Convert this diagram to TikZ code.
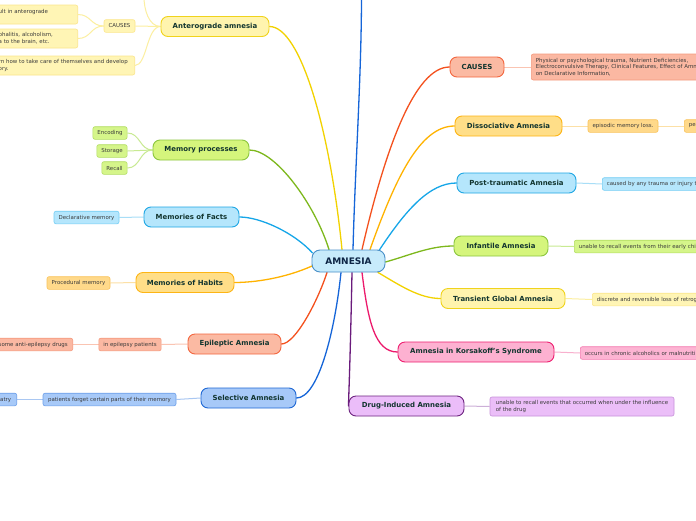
\documentclass[tikz,border=0pt]{standalone}
\usepackage{fontspec}
\setmainfont{DejaVu Sans}
\usetikzlibrary{calc}
\pgfdeclarelayer{bg}
\pgfsetlayers{bg,main}
\newcommand\mainf{\fontsize{6.95}{8}\selectfont\bfseries}
\newcommand\subf{\fontsize{5.45}{6.6}\selectfont}
\newcommand\amnf{\fontsize{9}{10}\selectfont\bfseries}
\definecolor{maintext}{HTML}{12352F}
\definecolor{subtext}{HTML}{3A3A3A}
\definecolor{amnfill}{HTML}{C7EBFB}
\definecolor{amnline}{HTML}{4A90C8}
\definecolor{amntext}{HTML}{0D2545}
% yellow
\definecolor{Yf}{HTML}{FFF4AE}\definecolor{Yd}{HTML}{F0D31C}\definecolor{Yc}{HTML}{F2D200}
\definecolor{Ysf}{HTML}{FFF5B5}\definecolor{Ysd}{HTML}{FBE68C}\definecolor{Ysc}{HTML}{FCEFA0}
% green
\definecolor{Gf}{HTML}{D5F57C}\definecolor{Gd}{HTML}{8CC63F}\definecolor{Gc}{HTML}{7DB81C}
\definecolor{Gsf}{HTML}{D5F58A}\definecolor{Gsd}{HTML}{B2DD62}\definecolor{Gsc}{HTML}{C8EA92}
% light blue
\definecolor{Lf}{HTML}{B5E6FC}\definecolor{Ld}{HTML}{1EA7E4}\definecolor{Lc}{HTML}{16A6E8}
\definecolor{Lsf}{HTML}{B5E6FC}\definecolor{Lsd}{HTML}{74CEF4}\definecolor{Lsc}{HTML}{A8DEF7}
% orange
\definecolor{Of}{HTML}{FFDE88}\definecolor{Od}{HTML}{FDB515}\definecolor{Oc}{HTML}{FFB300}
\definecolor{Osf}{HTML}{FFD98A}\definecolor{Osd}{HTML}{F9C35C}\definecolor{Osc}{HTML}{FCE0A6}
% salmon
\definecolor{Sf}{HTML}{FBBAA3}\definecolor{Sd}{HTML}{F3663F}\definecolor{Sc}{HTML}{F4511E}
\definecolor{Ssf}{HTML}{FBB8A2}\definecolor{Ssd}{HTML}{F59A7E}\definecolor{Ssc}{HTML}{FAC4B2}
% blue
\definecolor{Bf}{HTML}{A7C9F8}\definecolor{Bd}{HTML}{1F68D4}\definecolor{Bc}{HTML}{1565D8}
\definecolor{Bsf}{HTML}{A7C9F8}\definecolor{Bsd}{HTML}{6C9FE9}\definecolor{Bsc}{HTML}{A9C7F2}
% pink
\definecolor{Pf}{HTML}{FDB1D1}\definecolor{Pd}{HTML}{EE1E70}\definecolor{Pc}{HTML}{EC1A6C}
\definecolor{Psf}{HTML}{FDB4D3}\definecolor{Psd}{HTML}{F47CB1}\definecolor{Psc}{HTML}{F8B0CE}
% purple
\definecolor{Vf}{HTML}{EBBDF9}\definecolor{Vd}{HTML}{6E2480}\definecolor{Vc}{HTML}{6A1B7C}
\definecolor{Vsf}{HTML}{EBBEF8}\definecolor{Vsd}{HTML}{C791DA}\definecolor{Vsc}{HTML}{CDB0D8}
\begin{document}
\begin{tikzpicture}[x=1pt,y=-1pt,
  mainnode/.style={draw, line width=0.9pt, rounded corners=7pt, minimum height=20pt, inner xsep=2pt, inner ysep=0pt, font=\mainf, text=maintext},
  subnode/.style={draw, line width=0.6pt, rounded corners=2pt, minimum height=12.6pt, inner xsep=4.5pt, inner ysep=3pt, font=\subf, text=subtext},
  lclip/.style={subnode, anchor=east, align=left},
  rclip/.style={subnode, anchor=west, align=left, text width=230pt},
  conn/.style={line width=1.3pt, line cap=round},
  sconn/.style={line width=1pt},
  ym/.style={mainnode, fill=Yf, draw=Yd}, ys/.style={subnode, fill=Ysf, draw=Ysd},
  gm/.style={mainnode, fill=Gf, draw=Gd}, gs/.style={subnode, fill=Gsf, draw=Gsd},
  lm/.style={mainnode, fill=Lf, draw=Ld}, ls/.style={subnode, fill=Lsf, draw=Lsd},
  om/.style={mainnode, fill=Of, draw=Od}, os/.style={subnode, fill=Osf, draw=Osd},
  sm/.style={mainnode, fill=Sf, draw=Sd}, ss/.style={subnode, fill=Ssf, draw=Ssd},
  bm/.style={mainnode, fill=Bf, draw=Bd}, bs/.style={subnode, fill=Bsf, draw=Bsd},
  pm/.style={mainnode, fill=Pf, draw=Pd}, ps/.style={subnode, fill=Psf, draw=Psd},
  vm/.style={mainnode, fill=Vf, draw=Vd}, vs/.style={subnode, fill=Vsf, draw=Vsd}
]
\useasboundingbox (0,0) rectangle (696,520);
\clip (0,0) rectangle (696,520);

% centre
\node[draw=amnline, fill=amnfill, line width=0.9pt, rounded corners=8pt, minimum width=73pt, minimum height=22pt, inner sep=0pt, font=\amnf, text=amntext] (amn) at (348.5,261) {AMNESIA};

% left main topics
\node[ym, minimum width=108pt] (ant) at (215,26.5) {Anterograde amnesia};
\node[gm, minimum width=96pt] (mp) at (201,150) {Memory processes};
\node[lm, minimum width=95pt] (mof) at (191.5,217) {Memories of Facts};
\node[om, minimum width=98pt] (moh) at (185,282.5) {Memories of Habits};
\node[sm, minimum width=93pt] (ep) at (234.5,344) {Epileptic Amnesia};
\node[bm, minimum width=95pt] (sel) at (248.5,398) {Selective Amnesia};

% right main topics
\node[sm, minimum width=54pt] (cs) at (477,67) {CAUSES};
\node[om, minimum width=107pt] (dis) at (508.5,126) {Dissociative Amnesia};
\node[lm, minimum width=119pt] (pt) at (516.5,183) {Post-traumatic Amnesia};
\node[gm, minimum width=94pt] (inf) at (501,246) {Infantile Amnesia};
\node[ym, minimum width=124pt] (tga) at (503,298.5) {Transient Global Amnesia};
\node[pm, minimum width=156pt] (kor) at (476,352) {Amnesia in Korsakoff's Syndrome};
\node[vm, minimum width=115pt] (drg) at (406.5,406) {Drug-Induced Amnesia};

% left sub topics
\node[ys, minimum width=31pt] (cau) at (119.5,26) {CAUSES};
\node[lclip, ys, text width=74.5pt, minimum height=19pt] (a1) at (78,14.5) {\mbox{ult in anterograde}\\\mbox{}};
\node[lclip, ys, text width=74.5pt, minimum height=19pt] (a2) at (78,38.5) {\mbox{phalitis, alcoholism,}\\\mbox{a to the brain, etc.}};
\node[lclip, ys, text width=131.5pt, minimum height=19pt] (a3) at (135,65.5) {\mbox{rn how to take care of themselves and develop}\\ory.};
\coordinate (antup) at (144,-3);

\node[gs, minimum width=34pt] (enc) at (110,133) {Encoding};
\node[gs, minimum width=30pt] (sto) at (112,151) {Storage};
\node[gs, minimum width=25pt] (rec) at (114.5,168) {Recall};
\node[ls, minimum width=65pt] (decl) at (86.5,217.5) {Declarative memory};
\node[os, minimum width=63pt] (proc) at (78.5,283) {Procedural memory};
\node[ss, minimum width=62pt] (inep) at (130,344.5) {in epilepsy patients};
\node[lclip, ss, text width=69.5pt] (anti) at (73,344.5) {\mbox{some anti-epilepsy drugs}};
\node[bs, minimum width=133pt] (pf) at (109.5,399.5) {patients forget certain parts of their memory};
\node[lclip, bs, text width=13.5pt] (iat) at (17,399.5) {\mbox{iatry}};

% right sub topics
\node[rclip, ss, minimum height=26pt] (ctx) at (531,67) {Physical or psychological trauma, Nutrient Deficiencies,\\Electroconvulsive Therapy, Clinical Features, Effect of Amn\\on Declarative Information,};
\node[os, minimum width=70pt] (epi) at (623,126) {episodic memory loss.};
\node[rclip, os] (pe) at (684,126) {pe};
\node[rclip, ls] (cb) at (602,184) {caused by any trauma or injury t};
\node[rclip, gs] (un) at (574,246.5) {unable to recall events from their early chi};
\node[rclip, ys] (disc) at (592,299.5) {discrete and reversible loss of retrog};
\node[rclip, ps] (occ) at (580,353) {occurs in chronic alcoholics or malnutriti};
\node[vs, minimum width=184pt, minimum height=19pt, align=left] (ut) at (582,406.5) {unable to recall events that occurred when under the influence\\of the drug};
\coordinate (topc) at (361.5,-5);

\begin{pgfonlayer}{bg}
\fill[white] (0,0) rectangle (696,520);
% main connectors
\draw[conn, Yc] ($(amn.north)+(-6.5,0)$) .. controls +(-12,-120) and +(31,0) .. (ant.east);
\draw[conn, Gc] ($(amn.north)+(-19.5,0)$) .. controls +(-14,-45) and +(26,0) .. (mp.east);
\draw[conn, Lc] ($(amn.west)+(1,-8)$) .. controls +(-18,-20) and +(21,0) .. (mof.east);
\draw[conn, Oc] ($(amn.west)+(0.5,5)$) .. controls +(-27,12) and +(21,0) .. (moh.east);
\draw[conn, Sc] ($(amn.south)+(-21.5,0)$) .. controls +(-9,28) and +(14,0) .. (ep.east);
\draw[conn, Bc] ($(amn.south)+(-7.5,0)$) .. controls +(-6,58) and +(22,0) .. (sel.east);
\draw[conn, Vc] ($(amn.south)+(3.5,0)$) .. controls +(-2,100) and +(0,-10) .. (drg.west);
\draw[conn, Pc] ($(amn.south)+(13.5,0)$) .. controls +(6,48) and +(-23,0) .. (kor.west);
\draw[conn, Yc] ($(amn.south)+(29.5,0)$) .. controls +(22,13) and +(-21,0) .. (tga.west);
\draw[conn, Gc] ($(amn.east)+(0,1)$) .. controls +(25,-7) and +(-24,0) .. (inf.west);
\draw[conn, Lc] ($(amn.north)+(30.5,1)$) .. controls +(27,-41) and +(-27,0) .. (pt.west);
\draw[conn, Oc] ($(amn.north)+(21.5,0)$) .. controls +(25,-70) and +(-35,0) .. (dis.west);
\draw[conn, Sc] ($(amn.north)+(13.5,0)$) .. controls +(23,-100) and +(-35,0) .. (cs.west);
\draw[conn, Bc] ($(amn.north)+(4.5,0)$) .. controls +(2,-80) and +(0,80) .. (topc);
% sub connectors
\draw[sconn, Ysc] (ant.west) -- (cau.east);
\draw[sconn, Ysc] (ant.west) .. controls +(-14,0) and +(12,0) .. (a3.east);
\draw[sconn, Ysc] (ant.west) .. controls +(-12,0) and +(0,12) .. (antup);
\draw[sconn, Ysc] (cau.west) .. controls +(-13,0) and +(13,0) .. (a1.east);
\draw[sconn, Ysc] (cau.west) .. controls +(-13,0) and +(13,0) .. (a2.east);
\draw[sconn, Gsc] (mp.west) .. controls +(-13,0) and +(13,0) .. (enc.east);
\draw[sconn, Gsc] (mp.west) .. controls +(-13,0) and +(13,0) .. (sto.east);
\draw[sconn, Gsc] (mp.west) .. controls +(-13,0) and +(13,0) .. (rec.east);
\draw[sconn, Lsc] (mof.west) -- (decl.east);
\draw[sconn, Osc] (moh.west) -- (proc.east);
\draw[sconn, Ssc] (ep.west) -- (inep.east);
\draw[sconn, Ssc] (inep.west) -- (anti.east);
\draw[sconn, Bsc] (sel.west) -- (pf.east);
\draw[sconn, Bsc] (pf.west) -- (iat.east);
\draw[sconn, Ssc] (cs.east) -- (ctx.west);
\draw[sconn, Osc] (dis.east) -- (epi.west);
\draw[sconn, Osc] (epi.east) -- (pe.west);
\draw[sconn, Lsc] (pt.east) -- (cb.west);
\draw[sconn, Gsc] (inf.east) -- (un.west);
\draw[sconn, Ysc] (tga.east) -- (disc.west);
\draw[sconn, Psc] (kor.east) -- (occ.west);
\draw[sconn, Vsc] (drg.east) -- (ut.west);
\end{pgfonlayer}
\end{tikzpicture}
\end{document}
